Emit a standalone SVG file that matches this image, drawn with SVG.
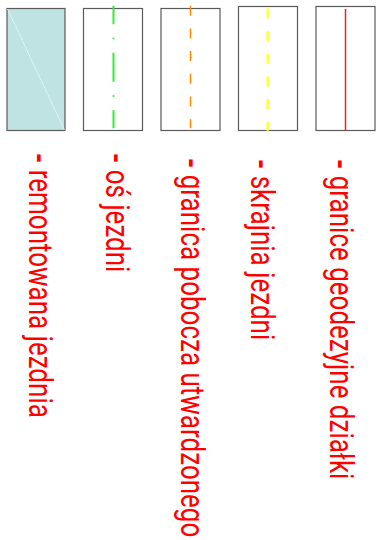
<svg xmlns="http://www.w3.org/2000/svg" width="383" height="540" viewBox="0 0 383 540">
<style>
.box{stroke:#5a5a5a;stroke-width:1.2}
.lbl{font-family:Roboto,"Liberation Sans",sans-serif;font-size:26px;fill:#ff0000}
.d{font-weight:bold}
</style>
<rect width="383" height="540" fill="#ffffff"/>
<g id="legend-remontowana-jezdnia">
<rect class="box" x="7" y="8.5" width="58" height="122" fill="#bfe2e2"/>
<line x1="7.5" y1="9" x2="64.5" y2="130" stroke="#ffffff" stroke-width="0.8" stroke-dasharray="1.5 0.7"/>
<text class="lbl" transform="translate(28.5,153) rotate(90) scale(1,1.3)"><tspan class="d">-</tspan> remontowana jezdnia</text>
</g>
<g id="legend-os-jezdni">
<rect class="box" x="83.5" y="8.5" width="59" height="122" fill="#ffffff"/>
<line x1="113.5" y1="5.7" x2="113.5" y2="128.3" stroke="#33ee33" stroke-width="2" stroke-dasharray="29 13.5 1.5 13.5" stroke-dashoffset="10.4"/>
<text class="lbl" transform="translate(106.4,153) rotate(90) scale(1,1.3)"><tspan class="d">-</tspan> oś jezdni</text>
</g>
<g id="legend-granica-pobocza">
<rect class="box" x="161" y="8.5" width="59" height="122" fill="#ffffff"/>
<line x1="190.5" y1="5.7" x2="190.5" y2="128.3" stroke="#ff8800" stroke-width="1.5" stroke-dasharray="10 12.7"/>
<text class="lbl" transform="translate(181,158) rotate(90) scale(1,1.3)"><tspan class="d">-</tspan> granica pobocza utwardzonego</text>
</g>
<g id="legend-skrajnia-jezdni">
<rect class="box" x="238.5" y="6.5" width="59" height="124" fill="#ffffff"/>
<line x1="267.7" y1="8.3" x2="267.7" y2="130.7" stroke="#ffff40" stroke-width="2.5" stroke-dasharray="10 12.7"/>
<text class="lbl" transform="translate(251,159) rotate(90) scale(1,1.3)"><tspan class="d">-</tspan> skrajnia jezdni</text>
</g>
<g id="legend-granice-geodezyjne">
<rect class="box" x="316" y="6.5" width="59" height="124" fill="#ffffff"/>
<line x1="345.5" y1="9" x2="345.5" y2="130.7" stroke="#ee2222" stroke-width="1.5"/>
<text class="lbl" transform="translate(329.5,159) rotate(90) scale(1,1.3)"><tspan class="d">-</tspan> granice geodezyjne działki</text>
</g>
<g id="connectors"></g>
</svg>
